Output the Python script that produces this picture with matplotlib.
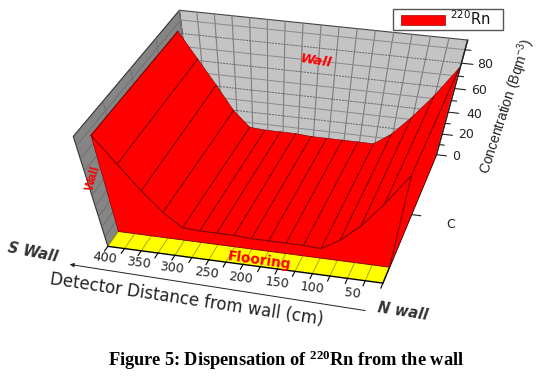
import numpy as np
import matplotlib
matplotlib.use('Agg')
import matplotlib.pyplot as plt
from matplotlib.patches import Polygon, Rectangle

plt.rcParams['mathtext.default'] = 'regular'
plt.rcParams['font.family'] = ['DejaVu Sans']

# ---- data
distance = [400, 375, 350, 325, 300, 275, 250, 225, 200, 175, 150, 125, 100, 75, 50, 25, 0]
conc_front = [86, 65, 44, 26, 13, 12, 12, 12, 11, 11, 11, 11, 10, 21, 37, 59, 85]
conc_back = [85, 65, 45, 24, 10, 9, 9, 9, 8, 8, 8, 8, 8, 19, 36, 56, 80]
x_tick_labels = [400, 350, 300, 250, 200, 150, 100, 50]
z_tick_labels = [0, 20, 40, 60, 80]
series_name = r'$^{220}$Rn'

# ---- picture calibration: axis locations seen in the reference -> camera
X0, X1, Y0, Y1, Z0, Z1 = 400, 0, 0.0, 1.0, 0, 97
RIB_Y0, RIB_Y1 = 0.11, 0.96
calib = [((400, 0, 0), (108, 245)), ((0, 0, 0), (383, 284)), ((0, 1, 0), (437, 154)),
         ((400, 1, 0), (193, 128)), ((400, 0, 97), (73, 137)), ((0, 1, 97), (468, 41)),
         ((400, 1, 97), (180, 9)), ((0, 1, 20), (442, 133)), ((0, 1, 40), (448, 112)),
         ((0, 1, 60), (454, 89)), ((0, 1, 80), (461, 63))]
A = []
for (a, b, c), (u, v) in calib:
    A.append([a, b*100, c, 1, 0, 0, 0, 0, -u*a, -u*b*100, -u*c, -u])
    A.append([0, 0, 0, 0, a, b*100, c, 1, -v*a, -v*b*100, -v*c, -v])
P = np.linalg.svd(np.array(A, float))[2][-1].reshape(3, 4)


def proj(x, y, z):
    x, y, z = np.broadcast_arrays(np.asarray(x, float), np.asarray(y, float), np.asarray(z, float))
    h = np.stack([x, y*100, z, np.ones_like(x)])
    u = P @ h.reshape(4, -1)
    return np.column_stack([u[0]/u[2], u[1]/u[2]])


fig = plt.figure(figsize=(5.41, 3.82), dpi=100)
ax = fig.add_axes([0, 0, 1, 1])
ax.set_xlim(0, 541)
ax.set_ylim(382, 0)
ax.axis('off')


def face(x, y, z, fc, ec='none', lw=0, zo=1):
    ax.add_patch(Polygon(proj(x, y, z), closed=True, fc=fc, ec=ec, lw=lw, zorder=zo, joinstyle='round'))


def line(x, y, z, color='k', lw=0.6, ls='-', zo=2):
    p = proj(x, y, z)
    ax.plot(p[:, 0], p[:, 1], color=color, lw=lw, ls=ls, zorder=zo, solid_capstyle='round')


# walls
face([X0, X1, X1, X0], [1, 1, 1, 1], [Z0, Z0, Z1, Z1], '#c4c4c4', '#444444', 0.8)
face([X0, X0, X0, X0], [0, 1, 1, 0], [Z0, Z0, Z1, Z1], '#858585', '#333333', 0.8)
for xv in distance:
    line([xv, xv], [1, 1], [Z0, Z1], '#7d7d7d', 0.8)
for zv in range(10, 97, 10):
    major = zv % 20 == 0
    line([X0, X1], [1, 1], [zv, zv], '#666666' if major else '#8a8a8a', 0.7, (0, (2, 1)) if major else '-')
    line([X0, X0], [0, 1], [zv, zv], '#6c6c6c', 0.6)
for yv in np.arange(0.25, 1, 0.25):
    line([X0, X0], [yv, yv], [Z0, Z1], '#6c6c6c', 0.6)

# floor
face([X0, X1, X1, X0], [0, 0, RIB_Y0, RIB_Y0], [0, 0, 0, 0], '#ffff00', zo=3)
for xv in distance:
    line([xv, xv], [0, RIB_Y0], [0, 0], '#a8a800', 0.7, zo=3.1)
line([X0, X1], [0, 0], [0, 0], 'k', 1.0, zo=6)
line([X1, X1], [0, 1], [0, 0], 'k', 1.0, zo=3.2)
line([X1, X1], [1, 1], [Z0, Z1], '#222222', 1.0, zo=3.2)

# ribbon
red = '#ff0000'
dark = '#7a0000'
xs = np.array(distance, float)
zf = np.array(conc_front, float)
zb = np.array(conc_back, float)
n = len(xs)
face([X1, X1, X1, X1], [RIB_Y0, RIB_Y1, RIB_Y1, RIB_Y0], [0, 0, zb[-1], zf[-1]], red, zo=4)
face(np.r_[xs, xs[::-1]], np.r_[np.full(n, RIB_Y0), np.full(n, RIB_Y1)], np.r_[zf, zb[::-1]], red, zo=4)
face(np.r_[xs, X1, X0], np.r_[np.full(n, RIB_Y0), RIB_Y0, RIB_Y0], np.r_[zf, 0, 0], red, zo=4)
for i in range(n):
    line([xs[i], xs[i]], [RIB_Y0, RIB_Y1], [zf[i], zb[i]], dark, 0.8, zo=5)
line(xs, np.full(n, RIB_Y0), zf, dark, 0.8, zo=5)
line(xs, np.full(n, RIB_Y1), zb, dark, 0.4, zo=5)
line([X0, X1], [RIB_Y0, RIB_Y0], [0, 0], dark, 0.6, zo=5)
line([X1, X1], [RIB_Y0, RIB_Y0], [0, zf[-1]], dark, 0.8, zo=5)
line([X0, X0], [RIB_Y0, RIB_Y0], [0, zf[0]], dark, 0.4, zo=5)

# ticks
for xv in distance:
    line([xv, xv], [0, -0.035], [0, 0], 'k', 0.8, zo=6)
for zv in range(0, 91, 10):
    line([X1, -16 if zv % 20 == 0 else -8], [1, 1], [zv, zv], '#222222', 0.8, zo=6)
line([X1, -14], [0.5, 0.5], [0, 0], '#222222', 0.8, zo=6)

grey = '#222222'
tick_pos = {400: (105, 258), 350: (139, 263), 300: (172, 268), 250: (207, 273),
            200: (241, 278), 150: (277, 283), 100: (312, 288), 50: (352, 294)}
for v in x_tick_labels:
    ax.text(*tick_pos[v], str(v), fontsize=9.2, color=grey, ha='center', va='center', rotation=-7, zorder=7)
z_pos = {0: (456, 156), 20: (466, 135), 40: (474, 114), 60: (479, 90), 80: (485, 65)}
for v in z_tick_labels:
    ax.text(*z_pos[v], str(v), fontsize=9, color=grey, ha='center', va='center', zorder=7)
ax.text(451, 224, 'C', fontsize=9, color=grey, ha='center', va='center', zorder=7)
ax.text(506, 107, r'Concentration (Bqm$^{-3}$)', fontsize=10, color=grey, ha='center', va='center',
        rotation=72, family='Liberation Sans', zorder=7)
ax.text(187, 299, 'Detector Distance from wall (cm)', fontsize=12, color=grey, ha='center', va='center', rotation=-8.5, zorder=7)
ax.text(33, 252, 'S Wall', fontsize=10.5, color='#333333', ha='center', va='center', rotation=-11, style='italic', fontweight='bold', zorder=7)
ax.text(403, 312, 'N wall', fontsize=10.5, color='#333333', ha='center', va='center', rotation=-9, style='italic', fontweight='bold', zorder=7)
ax.annotate('', xy=(67, 264), xytext=(368, 311), arrowprops=dict(arrowstyle='-|>', lw=0.7, color=grey, mutation_scale=6), zorder=7)

ax.text(316, 61, 'Wall', fontsize=9.5, color=red, ha='center', va='center', rotation=-9, fontweight='bold', style='italic', zorder=7)
ax.text(93, 178, 'Wall', fontsize=9, color=red, ha='center', va='center', rotation=75, fontweight='bold',
        family='Liberation Sans', zorder=7)
ax.text(259, 261, 'Flooring', fontsize=9.8, color=red, ha='center', va='center', rotation=-8, fontweight='bold', zorder=7)

# legend
ax.add_patch(Rectangle((393, 9), 110, 21, fc='white', ec='#555555', lw=1, zorder=8))
ax.add_patch(Rectangle((401, 15), 44, 10, fc=red, ec='#aa0000', lw=0.5, zorder=9))
ax.text(450, 19, series_name, fontsize=10.5, color='#111111', ha='left', va='center', zorder=9)

# caption
ax.text(286, 360, r'Figure 5: Dispensation of $^{220}$Rn from the wall', fontsize=13.2, fontweight='bold',
        family='Liberation Serif', color='k', ha='center', va='center', zorder=9)

fig.savefig('out.png', dpi=100)
